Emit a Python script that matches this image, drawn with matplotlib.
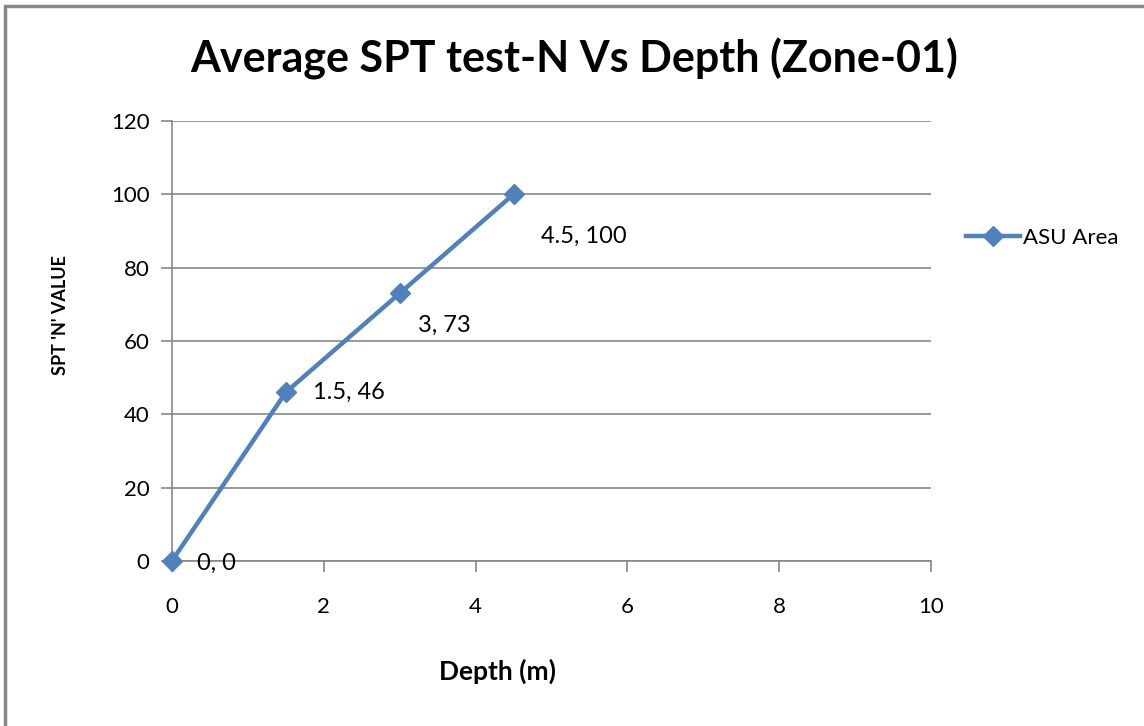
import matplotlib.pyplot as plt
from matplotlib.patches import Rectangle

depth = [0, 1.5, 3, 4.5]
spt_n = [0, 46, 73, 100]
series_name = "ASU Area"
label_offsets = [(25, -2), (27, 0), (18, -32), (27, -42)]

plt.rcParams["font.family"] = ["Lato", "DejaVu Sans"]

fig = plt.figure(figsize=(11.44, 7.26), dpi=100)
ax = fig.add_axes([0.1503, 0.2273, 0.8138 - 0.1503, 0.8333 - 0.2273])

# outer chart border
fig.patches.append(Rectangle((5 / 1144, -0.1), 1.2, 1 - 6 / 726 + 0.1,
                             transform=fig.transFigure, fill=False,
                             edgecolor="#878787", linewidth=2.5))

ax.plot(depth, spt_n, color="#4F81BD", linewidth=3.2, marker="D",
        markersize=10, label=series_name, zorder=3, clip_on=False)

for x, y, (dx, dy) in zip(depth, spt_n, label_offsets):
    ax.annotate(f"{x:g}, {y:g}", (x, y), xytext=(dx, dy),
                textcoords="offset pixels", fontsize=17, va="center", ha="left")

ax.set_xlim(0, 10)
ax.set_ylim(0, 120)
ax.set_xticks(range(0, 11, 2))
ax.set_yticks(range(0, 121, 20))
ax.grid(axis="y", color="#878787", linewidth=1.2)
ax.set_axisbelow(True)
for side in ["top", "right"]:
    ax.spines[side].set_visible(False)
for side in ["left", "bottom"]:
    ax.spines[side].set_color("#878787")
    ax.spines[side].set_linewidth(1.2)
ax.tick_params(length=8, width=1.2, color="#878787", labelsize=16, pad=8)
ax.tick_params(axis="x", pad=18)

fig.text(0.502, 0.919, "Average SPT test-N Vs Depth (Zone-01)",
         ha="center", va="center", fontsize=31, fontweight="bold")
fig.text(0.4345, 0.075, "Depth (m)", ha="center", va="center",
         fontsize=19, fontweight="bold")
fig.text(0.0525, 0.566, "SPT 'N' VALUE", ha="center", va="center",
         rotation=90, fontsize=13, fontweight="bold", fontstretch="condensed")

ax.legend(loc="center left", bbox_to_anchor=(1.02, 0.735), frameon=False,
          fontsize=16, handlelength=2.4, handletextpad=0.15)

fig.savefig("out.png", dpi=100)
